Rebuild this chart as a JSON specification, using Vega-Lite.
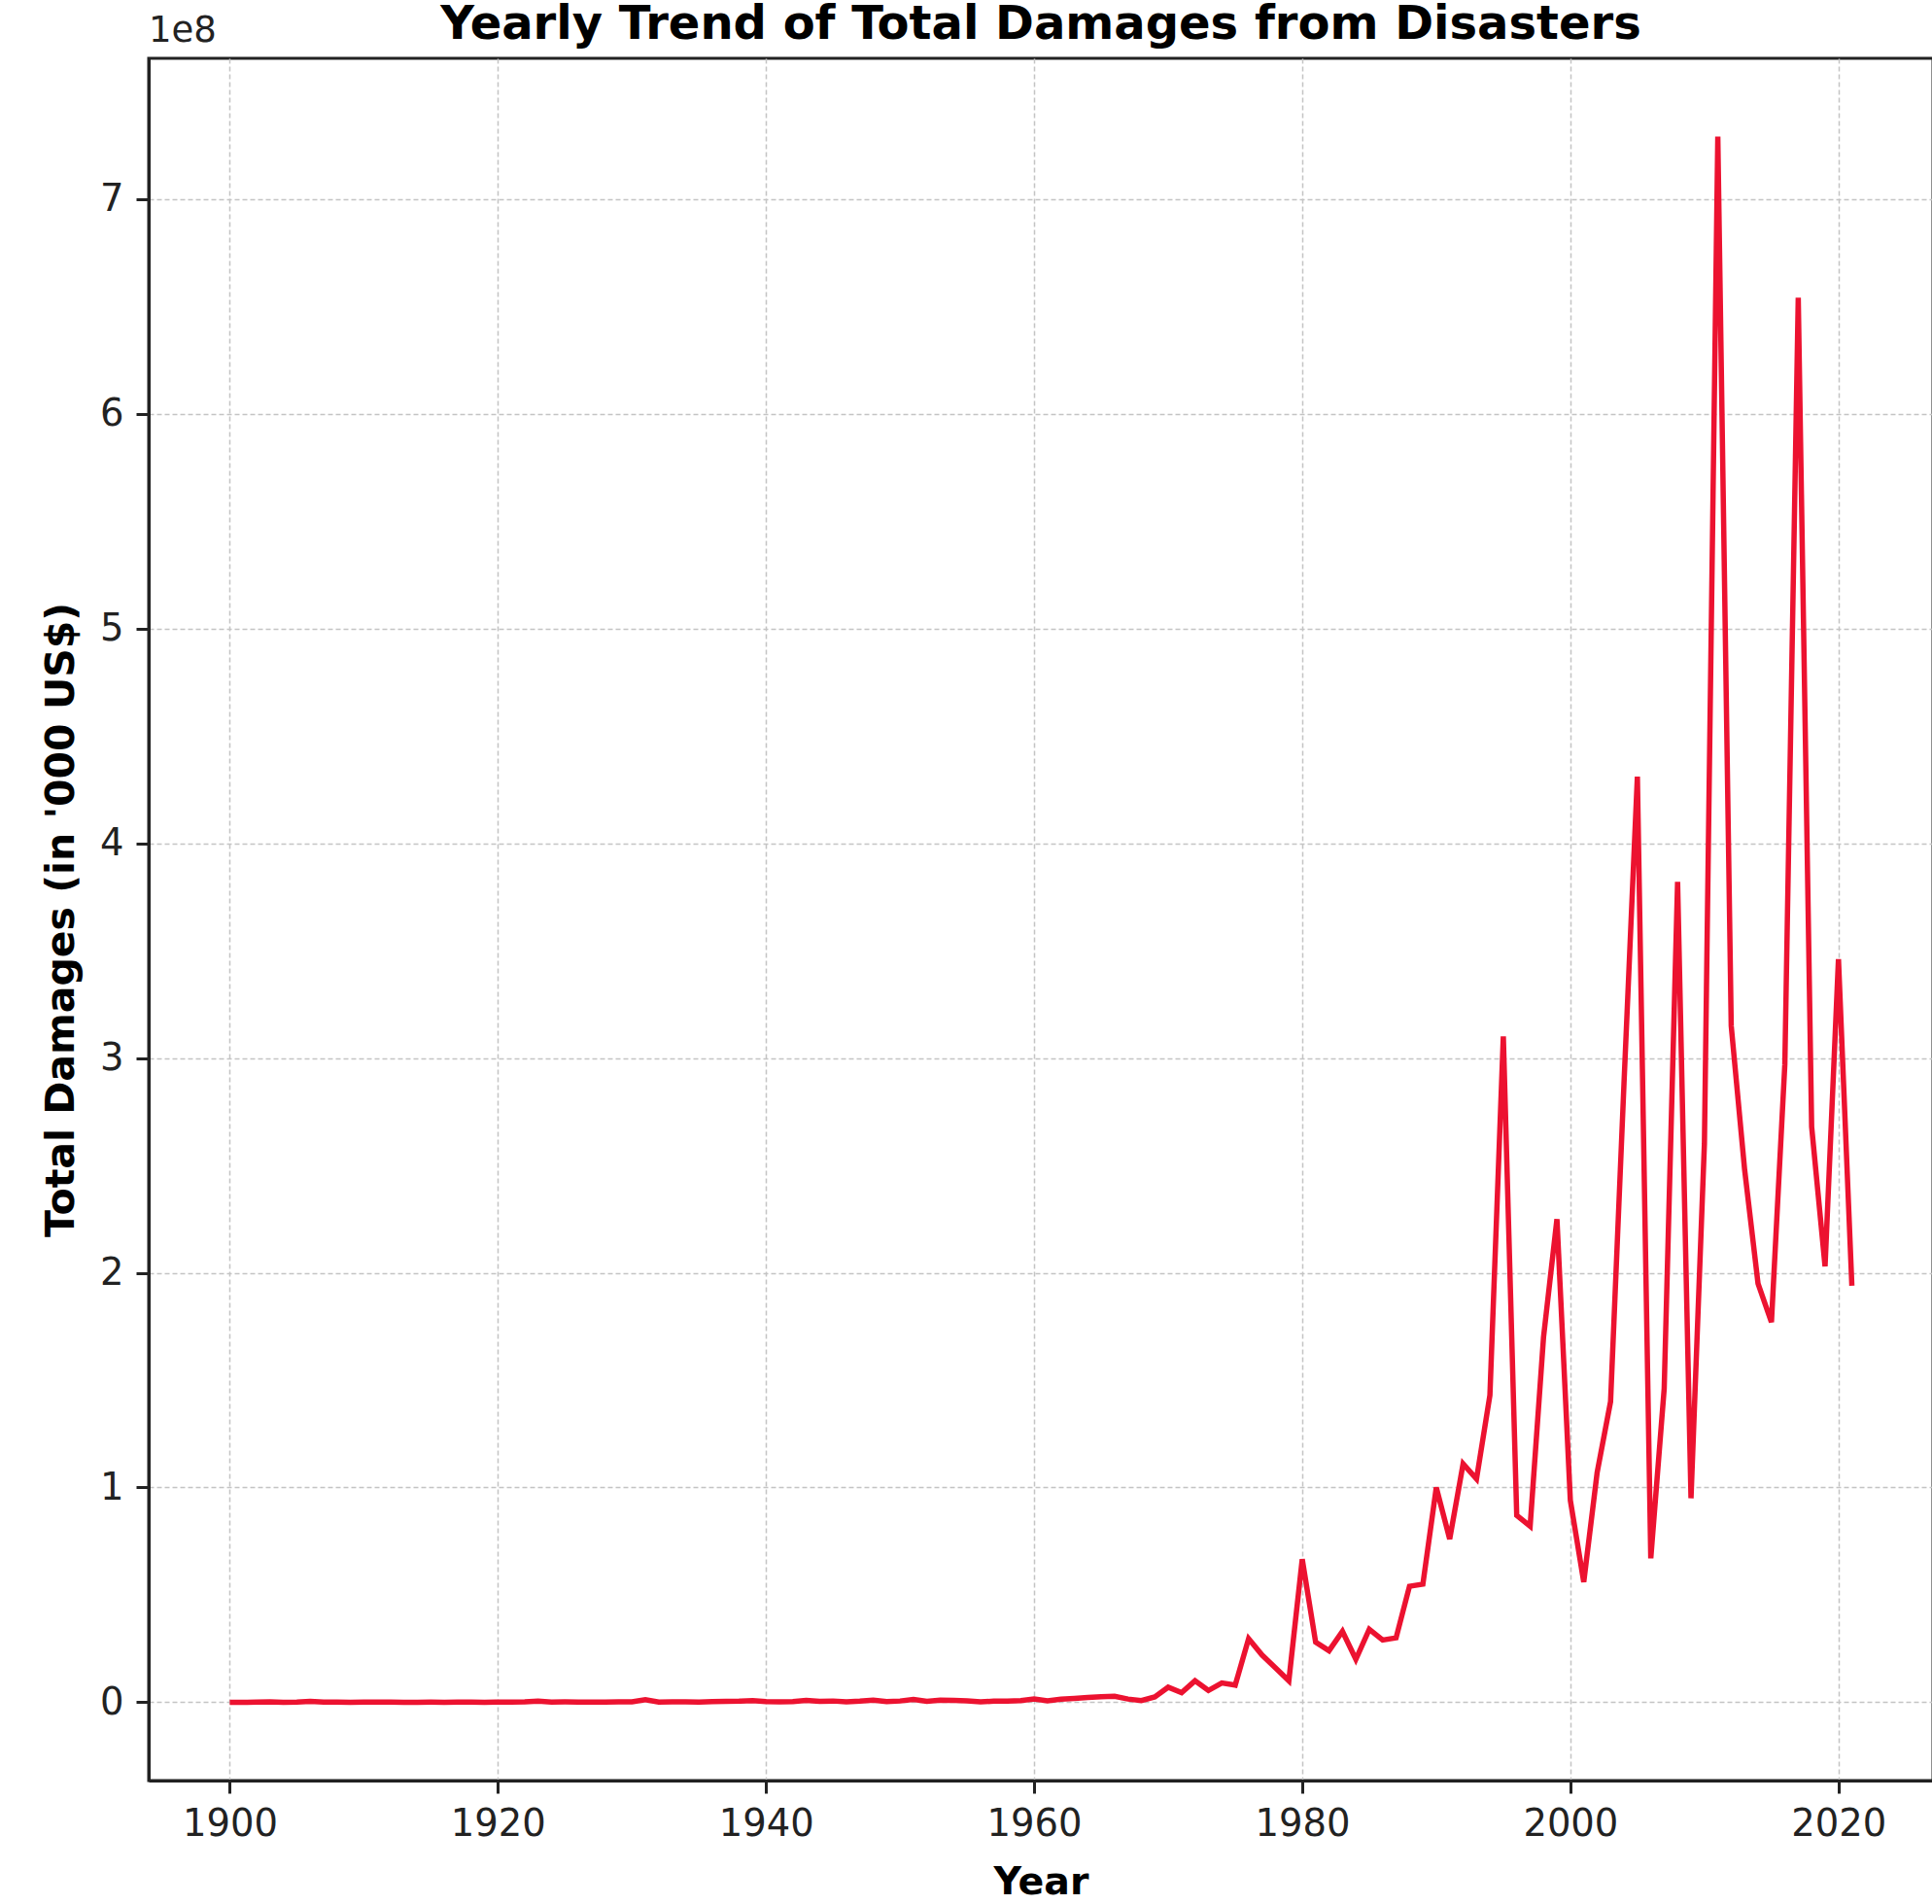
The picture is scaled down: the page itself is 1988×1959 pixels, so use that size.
{
  "$schema": "https://vega.github.io/schema/vega-lite/v6.json",
  "width": 1836,
  "height": 1772,
  "autosize": {"type": "none"},
  "padding": {"left": 153, "top": 60, "right": 0, "bottom": 127},
  "background": "white",
  "title": {
    "text": "Yearly Trend of Total Damages from Disasters",
    "font": "DejaVu Sans",
    "fontSize": 48,
    "fontWeight": "bold",
    "color": "black",
    "anchor": "middle",
    "offset": -37
  },
  "config": {
    "view": {"stroke": "#222222", "strokeWidth": 3},
    "axis": {
      "labelFont": "DejaVu Sans",
      "labelFontSize": 38.5,
      "labelColor": "#222222",
      "titleFont": "DejaVu Sans",
      "titleFontSize": 39.5,
      "titleFontWeight": "bold",
      "titleColor": "black",
      "tickSize": 13,
      "tickWidth": 3,
      "tickColor": "#222222",
      "domainColor": "#222222",
      "domainWidth": 3,
      "labelPadding": 13,
      "grid": true,
      "gridColor": "#c4c4c4",
      "gridWidth": 1.5,
      "gridDash": [5, 3]
    }
  },
  "data": {
    "values": [
      {"Year": 1900, "Total_Damages": 30000},
      {"Year": 1901, "Total_Damages": 0},
      {"Year": 1902, "Total_Damages": 50000},
      {"Year": 1903, "Total_Damages": 150000},
      {"Year": 1904, "Total_Damages": 20000},
      {"Year": 1905, "Total_Damages": 100000},
      {"Year": 1906, "Total_Damages": 400000},
      {"Year": 1907, "Total_Damages": 100000},
      {"Year": 1908, "Total_Damages": 50000},
      {"Year": 1909, "Total_Damages": 30000},
      {"Year": 1910, "Total_Damages": 100000},
      {"Year": 1911, "Total_Damages": 50000},
      {"Year": 1912, "Total_Damages": 80000},
      {"Year": 1913, "Total_Damages": 20000},
      {"Year": 1914, "Total_Damages": 30000},
      {"Year": 1915, "Total_Damages": 60000},
      {"Year": 1916, "Total_Damages": 20000},
      {"Year": 1917, "Total_Damages": 100000},
      {"Year": 1918, "Total_Damages": 40000},
      {"Year": 1919, "Total_Damages": 30000},
      {"Year": 1920, "Total_Damages": 50000},
      {"Year": 1921, "Total_Damages": 80000},
      {"Year": 1922, "Total_Damages": 200000},
      {"Year": 1923, "Total_Damages": 500000},
      {"Year": 1924, "Total_Damages": 100000},
      {"Year": 1925, "Total_Damages": 150000},
      {"Year": 1926, "Total_Damages": 100000},
      {"Year": 1927, "Total_Damages": 80000},
      {"Year": 1928, "Total_Damages": 100000},
      {"Year": 1929, "Total_Damages": 150000},
      {"Year": 1930, "Total_Damages": 200000},
      {"Year": 1931, "Total_Damages": 1200000},
      {"Year": 1932, "Total_Damages": 100000},
      {"Year": 1933, "Total_Damages": 150000},
      {"Year": 1934, "Total_Damages": 200000},
      {"Year": 1935, "Total_Damages": 100000},
      {"Year": 1936, "Total_Damages": 300000},
      {"Year": 1937, "Total_Damages": 400000},
      {"Year": 1938, "Total_Damages": 500000},
      {"Year": 1939, "Total_Damages": 800000},
      {"Year": 1940, "Total_Damages": 300000},
      {"Year": 1941, "Total_Damages": 200000},
      {"Year": 1942, "Total_Damages": 300000},
      {"Year": 1943, "Total_Damages": 900000},
      {"Year": 1944, "Total_Damages": 400000},
      {"Year": 1945, "Total_Damages": 600000},
      {"Year": 1946, "Total_Damages": 200000},
      {"Year": 1947, "Total_Damages": 500000},
      {"Year": 1948, "Total_Damages": 1000000},
      {"Year": 1949, "Total_Damages": 300000},
      {"Year": 1950, "Total_Damages": 600000},
      {"Year": 1951, "Total_Damages": 1300000},
      {"Year": 1952, "Total_Damages": 400000},
      {"Year": 1953, "Total_Damages": 1000000},
      {"Year": 1954, "Total_Damages": 900000},
      {"Year": 1955, "Total_Damages": 700000},
      {"Year": 1956, "Total_Damages": 200000},
      {"Year": 1957, "Total_Damages": 500000},
      {"Year": 1958, "Total_Damages": 600000},
      {"Year": 1959, "Total_Damages": 800000},
      {"Year": 1960, "Total_Damages": 1500000},
      {"Year": 1961, "Total_Damages": 700000},
      {"Year": 1962, "Total_Damages": 1400000},
      {"Year": 1963, "Total_Damages": 1800000},
      {"Year": 1964, "Total_Damages": 2200000},
      {"Year": 1965, "Total_Damages": 2600000},
      {"Year": 1966, "Total_Damages": 2800000},
      {"Year": 1967, "Total_Damages": 1500000},
      {"Year": 1968, "Total_Damages": 800000},
      {"Year": 1969, "Total_Damages": 2500000},
      {"Year": 1970, "Total_Damages": 7000000},
      {"Year": 1971, "Total_Damages": 4500000},
      {"Year": 1972, "Total_Damages": 10000000},
      {"Year": 1973, "Total_Damages": 5500000},
      {"Year": 1974, "Total_Damages": 9000000},
      {"Year": 1975, "Total_Damages": 8000000},
      {"Year": 1976, "Total_Damages": 29600000},
      {"Year": 1977, "Total_Damages": 22000000},
      {"Year": 1978, "Total_Damages": 16000000},
      {"Year": 1979, "Total_Damages": 10000000},
      {"Year": 1980, "Total_Damages": 66600000},
      {"Year": 1981, "Total_Damages": 28000000},
      {"Year": 1982, "Total_Damages": 24000000},
      {"Year": 1983, "Total_Damages": 33000000},
      {"Year": 1984, "Total_Damages": 20000000},
      {"Year": 1985, "Total_Damages": 34000000},
      {"Year": 1986, "Total_Damages": 29000000},
      {"Year": 1987, "Total_Damages": 30000000},
      {"Year": 1988, "Total_Damages": 54000000},
      {"Year": 1989, "Total_Damages": 55000000},
      {"Year": 1990, "Total_Damages": 100000000},
      {"Year": 1991, "Total_Damages": 76000000},
      {"Year": 1992, "Total_Damages": 111000000},
      {"Year": 1993, "Total_Damages": 104000000},
      {"Year": 1994, "Total_Damages": 143000000},
      {"Year": 1995, "Total_Damages": 310000000},
      {"Year": 1996, "Total_Damages": 87000000},
      {"Year": 1997, "Total_Damages": 82000000},
      {"Year": 1998, "Total_Damages": 170000000},
      {"Year": 1999, "Total_Damages": 225000000},
      {"Year": 2000, "Total_Damages": 94000000},
      {"Year": 2001, "Total_Damages": 56000000},
      {"Year": 2002, "Total_Damages": 107000000},
      {"Year": 2003, "Total_Damages": 140000000},
      {"Year": 2004, "Total_Damages": 288000000},
      {"Year": 2005, "Total_Damages": 431000000},
      {"Year": 2006, "Total_Damages": 67000000},
      {"Year": 2007, "Total_Damages": 146000000},
      {"Year": 2008, "Total_Damages": 382000000},
      {"Year": 2009, "Total_Damages": 95000000},
      {"Year": 2010, "Total_Damages": 260000000},
      {"Year": 2011, "Total_Damages": 729000000},
      {"Year": 2012, "Total_Damages": 315000000},
      {"Year": 2013, "Total_Damages": 248000000},
      {"Year": 2014, "Total_Damages": 195000000},
      {"Year": 2015, "Total_Damages": 177000000},
      {"Year": 2016, "Total_Damages": 297000000},
      {"Year": 2017, "Total_Damages": 654000000},
      {"Year": 2018, "Total_Damages": 268000000},
      {"Year": 2019, "Total_Damages": 203000000},
      {"Year": 2020, "Total_Damages": 346000000},
      {"Year": 2021, "Total_Damages": 194000000}
    ]
  },
  "layer": [
    {
      "mark": {"type": "line", "color": "#ec1230", "strokeWidth": 5.5, "clip": true},
      "encoding": {
        "x": {
          "field": "Year",
          "type": "quantitative",
          "scale": {"domain": [1893.95, 2027.05], "nice": false, "zero": false},
          "axis": {
            "title": "Year",
            "values": [1900, 1920, 1940, 1960, 1980, 2000, 2020],
            "format": "d",
            "titlePadding": 22
          }
        },
        "y": {
          "field": "Total_Damages",
          "type": "quantitative",
          "scale": {"domain": [-36450000, 765450000], "nice": false, "zero": false},
          "axis": {
            "title": "Total Damages (in '000 US$)",
            "titleFontSize": 41,
            "values": [0, 100000000, 200000000, 300000000, 400000000, 500000000, 600000000, 700000000],
            "labelExpr": "format(datum.value / 100000000, 'd')",
            "titlePadding": 18
          }
        }
      }
    },
    {
      "data": {"values": [{"label": "1e8"}]},
      "mark": {"type": "text", "font": "DejaVu Sans", "fontSize": 37, "color": "#222222", "align": "left", "baseline": "middle"},
      "encoding": {
        "x": {"datum": 1893.95, "type": "quantitative"},
        "y": {"datum": 778000000, "type": "quantitative"},
        "text": {"field": "label", "type": "nominal"}
      }
    }
  ]
}
